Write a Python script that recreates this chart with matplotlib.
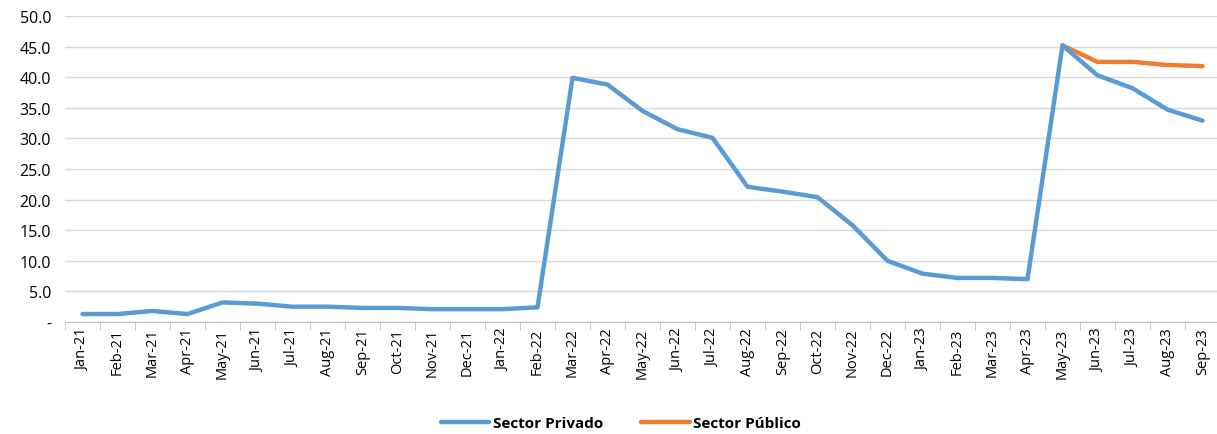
import numpy as np
import matplotlib.pyplot as plt
from matplotlib.ticker import FixedLocator, FuncFormatter

months = ['Jan-21', 'Feb-21', 'Mar-21', 'Apr-21', 'May-21', 'Jun-21', 'Jul-21', 'Aug-21',
          'Sep-21', 'Oct-21', 'Nov-21', 'Dec-21', 'Jan-22', 'Feb-22', 'Mar-22', 'Apr-22',
          'May-22', 'Jun-22', 'Jul-22', 'Aug-22', 'Sep-22', 'Oct-22', 'Nov-22', 'Dec-22',
          'Jan-23', 'Feb-23', 'Mar-23', 'Apr-23', 'May-23', 'Jun-23', 'Jul-23', 'Aug-23',
          'Sep-23']
privado = [1.3, 1.3, 1.8, 1.3, 3.2, 3.0, 2.5, 2.5, 2.3, 2.3, 2.1, 2.1, 2.1, 2.4,
           39.9, 38.8, 34.5, 31.5, 30.1, 22.1, 21.3, 20.4, 15.8, 10.0, 7.9, 7.2,
           7.2, 7.0, 45.2, 40.3, 38.2, 34.7, 32.9]
publico_months = ['May-23', 'Jun-23', 'Jul-23', 'Aug-23', 'Sep-23']
publico = [45.2, 42.5, 42.5, 42.0, 41.8]

plt.rcParams['font.family'] = ['Open Sans', 'DejaVu Sans']

fig = plt.figure(figsize=(12.17, 4.35), dpi=100)
ax = fig.add_axes([65 / 1217, 1 - 323 / 435, 1155 / 1217, 306 / 435])

x = np.arange(len(months))
x_pub = [months.index(m) for m in publico_months]

ax.plot(x, privado, color='#5b9bd5', lw=3.2, solid_joinstyle='round',
        solid_capstyle='round', label='Sector Privado', zorder=3)
ax.plot(x_pub, publico, color='#ed7d31', lw=3.2, solid_joinstyle='round',
        solid_capstyle='round', label='Sector Público', zorder=2)

ax.set_xlim(-0.5, len(months) - 0.5)
ax.set_ylim(0, 50)
ax.set_yticks(np.arange(0, 51, 5))
ax.yaxis.set_major_formatter(FuncFormatter(lambda v, p: '-' if v == 0 else f'{v:.1f}'))
ax.grid(axis='y', color='#d9d9d9', lw=1)
ax.set_axisbelow(True)

ax.set_xticks(x)
ax.set_xticklabels(months, rotation=90, fontsize=10.5)
ax.tick_params(axis='x', which='major', length=0, pad=4)
ax.xaxis.set_minor_locator(FixedLocator(np.arange(-0.5, len(months), 1)))
ax.tick_params(axis='x', which='minor', length=6, color='#bfbfbf')
ax.tick_params(axis='y', length=0, labelsize=11.5, pad=10)

for s in ['top', 'right', 'left']:
    ax.spines[s].set_visible(False)
ax.spines['bottom'].set_color('#bfbfbf')

fig.legend(loc='center', bbox_to_anchor=(0.51, 0.025), ncol=2, frameon=False,
           prop={'weight': 'bold', 'size': 11}, handlelength=3.2, columnspacing=2.5,
           handletextpad=0.2)

fig.savefig('out.png', dpi=100)
